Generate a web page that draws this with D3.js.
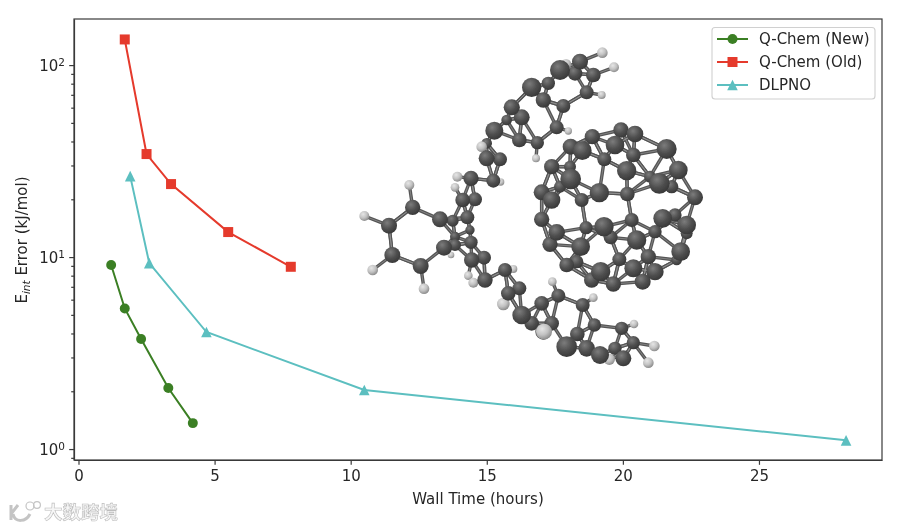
<!DOCTYPE html>
<html><head><meta charset="utf-8">
<script src="https://cdn.jsdelivr.net/npm/d3@7"></script>
<style>html,body{margin:0;padding:0;background:#fff}svg{display:block;font-family:"DejaVu Sans",sans-serif;filter:blur(0.42px)}</style>
</head><body><svg id="c" width="900" height="529"></svg>
<script>
const seriesNames = ["Q-Chem (New)", "Q-Chem (Old)", "DLPNO"];
const seriesColors = ["#3b7f24", "#e53a2c", "#5cbfc0"];
const newTime = [1.2, 1.7, 2.3, 3.3, 4.2];
const newError = [9.1, 5.4, 3.74, 2.08, 1.365];
const oldTime = [1.7, 2.5, 3.4, 5.5, 7.8];
const oldError = [136, 34.4, 24, 13.5, 8.9];
const dlpnoTime = [1.9, 2.6, 4.7, 10.5, 28.2];
const dlpnoError = [26.4, 9.3, 4.07, 2.03, 1.11];
const xTicks = [0, 5, 10, 15, 20, 25];
const yMajor = [1, 10, 100];
const yMinor = [0.9,2,3,4,5,6,7,8,9,20,30,40,50,60,70,80,90];
const xLabel = "Wall Time (hours)";
const watermark = "大数跨境";

// molecule inset: atoms in its own image space [x, y, radius]
const ringC = [[218,532,23],[147,587,24],[157,675,24],[242,708,24],[312,653,24],[300,568,24]];
const ringH = [[208,465,15],[73,558,15],[98,720,16],[252,776,16]];
const upperC = [[338,572,18],[382,562,21],[405,508,21],[368,510,22],[393,445,23],[460,452,21],[440,385,24],[480,388,21],[463,302,27],[538,330,22],[545,262,24],[592,338,20],[650,292,21],[670,228,21],[610,210,23],[575,172,29],[660,120,30],[720,95,24],[705,130,22],[760,135,22],[740,187,21],[625,160,20],[515,232,24],[440,340,16],[500,270,16]];
const upperH = [[425,350,16],[352,440,15],[345,472,13],[482,456,11],[588,385,12],[685,303,11],[785,195,12],[822,112,15],[787,68,16],[678,103,16],[517,232,23]];
const lowerC = [[393,637,20],[345,645,18],[395,690,23],[432,683,21],[495,720,21],[435,750,23],[505,790,22],[538,775,21],[605,820,22],[655,797,21],[728,825,21],[763,885,20],[712,912,22],[635,880,22],[545,855,28],[610,905,24],[680,950,31],[740,955,25],[780,975,27],[845,895,20],[880,938,20],[850,985,24],[825,955,20],[575,880,22],[345,620,15],[390,600,14]];
const lowerH = [[520,717,12],[385,737,13],[400,758,15],[490,822,19],[637,755,13],[760,803,13],[882,882,13],[943,948,16],[925,998,16],[808,988,17],[612,905,24],[333,675,10]];
const ballC = [[843,300,23],[885,312,25],[757,320,23],[825,345,28],[727,362,28],[692,350,24],[880,375,22],[980,357,30],[793,388,21],[1015,420,28],[635,410,23],[860,422,29],[692,447,31],[958,460,31],[995,470,20],[778,488,29],[862,492,22],[1065,502,24],[725,510,21],[605,487,24],[635,510,26],[605,568,23],[875,570,21],[968,565,28],[1040,585,28],[1005,555,20],[738,593,20],[792,590,29],[650,607,25],[945,605,20],[812,622,21],[890,630,29],[630,643,23],[722,650,28],[1022,665,28],[925,680,23],[838,688,21],[680,705,22],[880,715,27],[710,695,20],[782,725,29],[945,725,26],[755,750,23],[820,762,23],[908,755,24],[1040,610,18],[690,410,18],[1010,690,16],[660,470,18],[930,440,18]];

const svg = d3.select("#c");
const L = 74, R = 882, T = 19, B = 460;
const x = d3.scaleLinear().domain([-0.165, 29.52]).range([L, R]);
const y = d3.scaleLog().domain([0.877, 173.8]).range([B, T]);
const ink = "#262626", frame = "#3a3a3a";
const fs = 15, fsSmall = 10.5;
const defs = svg.append("defs");
function grad(id, a, b, c) {
  const g = defs.append("radialGradient").attr("id", id).attr("cx", "38%").attr("cy", "32%").attr("r", "70%");
  g.append("stop").attr("offset", "0%").attr("stop-color", a);
  g.append("stop").attr("offset", "55%").attr("stop-color", b);
  g.append("stop").attr("offset", "100%").attr("stop-color", c);
}
grad("gc", "#7c7c7c", "#505050", "#383838");
grad("gh", "#e6e6e6", "#c2c2c2", "#8a8a8a");
defs.append("filter").attr("id", "soft").append("feGaussianBlur").attr("stdDeviation", 0.4);

// molecule
const mx = d3.scaleLinear().domain([0, 1140]).range([340, 720]);
const my = d3.scaleLinear().domain([0, 1050]).range([30, 380]);
const mr = d3.scaleLinear().domain([0, 3]).range([0, 1]);
const mol = svg.append("g").attr("filter", "url(#soft)");
function bonds(atoms, others, k, maxD) {
  const out = [];
  atoms.forEach(a => {
    others.map(b => [b, Math.hypot(a[0]-b[0], a[1]-b[1])]).filter(d => d[1] > 1 && d[1] < maxD)
      .sort((p, q) => p[1]-q[1]).slice(0, k).forEach(d => out.push([a, d[0]]));
  });
  return out;
}
const allC = ringC.concat(upperC, lowerC);
const allH = ringH.concat(upperH, lowerH);
const bondList = bonds(ballC, ballC, 4, 125).concat(bonds(allC, allC, 3, 100), bonds(allH.filter(h => h[2] < 20), allC, 1, 85));
mol.selectAll("line.b").data(bondList).join("line").attr("class","b")
  .attr("x1", d => mx(d[0][0])).attr("y1", d => my(d[0][1]))
  .attr("x2", d => mx(d[1][0])).attr("y2", d => my(d[1][1]))
  .attr("stroke", "#555").attr("stroke-width", 3.4);
mol.selectAll("line.h").data(bondList).join("line").attr("class","h")
  .attr("x1", d => mx(d[0][0])).attr("y1", d => my(d[0][1]))
  .attr("x2", d => mx(d[1][0])).attr("y2", d => my(d[1][1]))
  .attr("stroke", "#969696").attr("stroke-width", 0.7);
const atoms = allC.map(a => [a, "gc"]).concat(ballC.map(a => [a, "gc"]), allH.map(a => [a, "gh"]))
  .sort((p, q) => p[0][2]-q[0][2]);
mol.selectAll("circle").data(atoms).join("circle")
  .attr("cx", d => mx(d[0][0])).attr("cy", d => my(d[0][1])).attr("r", d => mr(d[0][2]))
  .attr("fill", d => `url(#${d[1]})`);

// axes
const gx = svg.append("g").attr("transform", `translate(0,${B})`)
  .call(d3.axisBottom(x).tickValues(xTicks).tickFormat(d3.format("d")).tickSize(4.8).tickSizeOuter(0).tickPadding(6));
const gy = svg.append("g").attr("transform", `translate(${L},0)`)
  .call(d3.axisLeft(y).tickValues(yMajor).tickFormat("").tickSize(4.8).tickSizeOuter(0));
const gm = svg.append("g").attr("transform", `translate(${L},0)`)
  .call(d3.axisLeft(y).tickValues(yMinor).tickFormat("").tickSize(2.8).tickSizeOuter(0));
gm.select(".domain").remove();
[gx, gy, gm].forEach(g => { g.selectAll("line,path").attr("stroke", frame).attr("stroke-width", 1.2); });
gx.selectAll("text").attr("font-size", fs).attr("fill", ink).attr("font-family", "DejaVu Sans");
gy.selectAll(".tick").append("text").attr("x", -9).attr("dy", "0.36em").attr("text-anchor", "end")
  .attr("fill", ink).attr("font-size", fs).attr("font-family", "DejaVu Sans")
  .each(function(d) {
    const t = d3.select(this);
    t.append("tspan").text("10");
    t.append("tspan").attr("dy", "-0.45em").attr("font-size", fsSmall).text(Math.round(Math.log10(d)));
  });
svg.append("rect").attr("x", L).attr("y", T).attr("width", R-L).attr("height", B-T)
  .attr("fill", "none").attr("stroke", frame).attr("stroke-width", 1.2);

// labels
svg.append("text").attr("x", (L+R)/2).attr("y", 504).attr("text-anchor", "middle")
  .attr("font-size", fs).attr("fill", ink).text(xLabel);
const yl = svg.append("text").attr("transform", `translate(27,240) rotate(-90)`).attr("text-anchor", "middle")
  .attr("font-size", fs).attr("fill", ink);
yl.append("tspan").text("E");
yl.append("tspan").attr("dy", 2.5).attr("font-size", fsSmall).attr("font-style", "italic").text("int");
yl.append("tspan").attr("dy", -2.5).text(" Error (kJ/mol)");

// series
const triangle = {draw(c, size) { const r = Math.sqrt(size) / 2; c.moveTo(0, -r); c.lineTo(r, r); c.lineTo(-r, r); c.closePath(); }};
const series = [
  {t: newTime, e: newError, c: seriesColors[0], s: d3.symbolCircle, a: 78},
  {t: oldTime, e: oldError, c: seriesColors[1], s: d3.symbolSquare, a: 100},
  {t: dlpnoTime, e: dlpnoError, c: seriesColors[2], s: triangle, a: 112}
];
const line = d3.line().x(d => x(d[0])).y(d => y(d[1]));
series.forEach(s => {
  const pts = s.t.map((v, i) => [v, s.e[i]]);
  const g = svg.append("g");
  g.append("path").attr("d", line(pts)).attr("fill", "none").attr("stroke", s.c).attr("stroke-width", 2);
  g.selectAll("path.m").data(pts).join("path").attr("class", "m")
    .attr("d", d3.symbol().type(s.s).size(s.a))
    .attr("transform", d => `translate(${x(d[0])},${y(d[1])})`).attr("fill", s.c);
});

// legend
const lg = svg.append("g");
lg.append("rect").attr("x", 712).attr("y", 27.5).attr("width", 163).attr("height", 71.5).attr("rx", 3)
  .attr("fill", "#fff").attr("fill-opacity", 0.85).attr("stroke", "#d0d0d0").attr("stroke-width", 1.1);
const ly = d3.scalePoint().domain(seriesNames).range([39, 85]);
series.forEach((s, i) => {
  const n = seriesNames[i], g = lg.append("g").attr("transform", `translate(0,${ly(n)})`);
  g.append("line").attr("x1", 717).attr("x2", 748).attr("stroke", s.c).attr("stroke-width", 2);
  g.append("path").attr("d", d3.symbol().type(s.s).size(s.a)).attr("transform", "translate(732.5,0)").attr("fill", s.c);
  g.append("text").attr("x", 759).attr("dy", "0.36em").attr("font-size", fs).attr("fill", ink).text(n);
});

// watermark
const wm = svg.append("g").attr("fill", "#f6f6f6").attr("stroke", "#bdbdbd").attr("stroke-width", 0.6);
wm.append("text").attr("x", 44).attr("y", 519).attr("font-size", 18.5)
  .attr("font-family", "Noto Sans CJK SC").attr("font-weight", 700).text(watermark);
wm.append("path").attr("d", "M11 505V520M11 514L18 505M13 514C15 523 26 522 30 514").attr("fill", "none").attr("stroke", "#c4c4c4").attr("stroke-width", 3);
wm.selectAll("circle.l").data([[30,506,4],[37,505,3.4]]).join("circle").attr("class","l")
  .attr("cx", d => d[0]).attr("cy", d => d[1]).attr("r", d => d[2]).attr("fill", "none").attr("stroke", "#c4c4c4").attr("stroke-width", 1.2);
</script></body></html>
